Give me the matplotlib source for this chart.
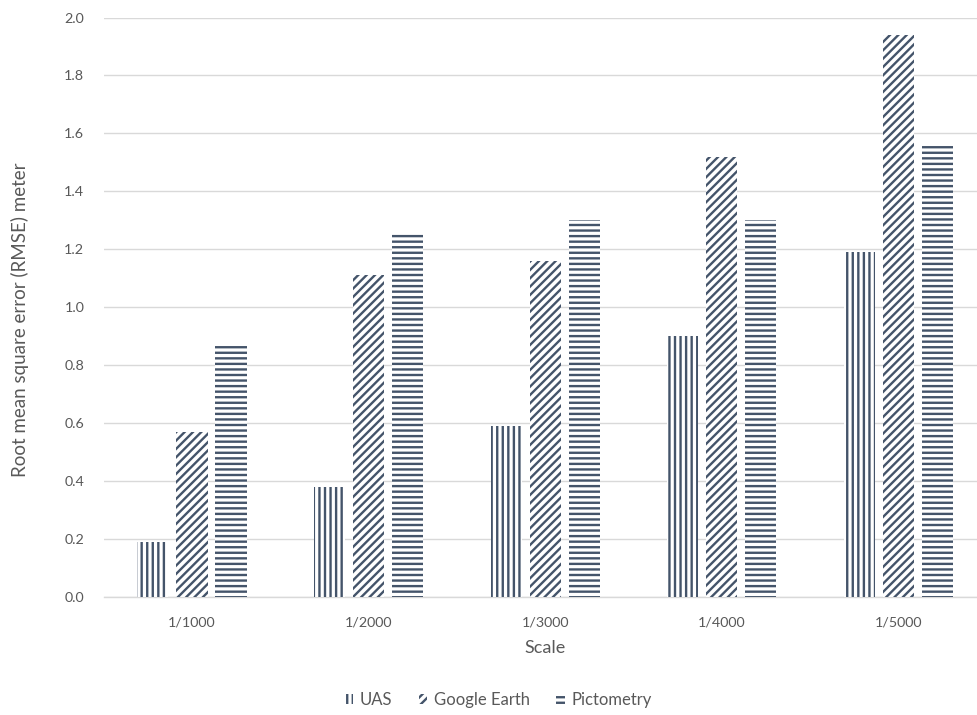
import matplotlib
matplotlib.use("Agg")
import matplotlib.pyplot as plt
import matplotlib.transforms as mtransforms
import numpy as np

# RMSE (meters) by map scale for each imagery source
scales = ["1/1000", "1/2000", "1/3000", "1/4000", "1/5000"]
uas = [0.19, 0.38, 0.59, 0.90, 1.19]
google_earth = [0.57, 1.11, 1.16, 1.52, 1.94]
pictometry = [0.87, 1.26, 1.30, 1.30, 1.56]

series_names = ["UAS", "Google Earth", "Pictometry"]
y_ticks = [0.0, 0.2, 0.4, 0.6, 0.8, 1.0, 1.2, 1.4, 1.6, 1.8, 2.0]

plt.rcParams["font.family"] = ["Lato", "DejaVu Sans"]
plt.rcParams["hatch.linewidth"] = 1.7

ink = "#44546A"
text_grey = "#595959"
grid_grey = "#D9D9D9"

fig = plt.figure(figsize=(9.78, 7.15), dpi=100)
ax = fig.add_axes([0.106, 0.165, 0.894, 0.8105])

x = np.arange(len(scales))
width = 0.176
step = 0.221
hatches = ["|||", "////", "---"]
values = [uas, google_earth, pictometry]

for i, (name, vals, h) in enumerate(zip(series_names, values, hatches)):
    ax.bar(x + (i - 1) * step, vals, width=width, facecolor="white",
           edgecolor=ink, linewidth=0, hatch=h, label=name, zorder=3)

ax.set_xlim(-0.5, 4.45)
ax.set_ylim(0, 2.0)
ax.set_xticks(x)
ax.set_xticklabels(scales)
ax.set_yticks(y_ticks)
ax.set_yticklabels([f"{v:.1f}" for v in y_ticks])

ax.tick_params(axis="both", length=0, colors=text_grey, labelsize=10.3)
ax.tick_params(axis="x", pad=14)
ax.tick_params(axis="y", pad=14)

ax.grid(axis="y", color=grid_grey, linewidth=1.0, zorder=0)
for side in ["top", "right", "left"]:
    ax.spines[side].set_visible(False)
ax.spines["bottom"].set_color(grid_grey)
ax.spines["bottom"].set_linewidth(1.0)

# Axis titles
trans = mtransforms.blended_transform_factory(ax.transData, fig.transFigure)
ax.text(2, 1 - 648 / 715, "Scale", transform=trans, ha="center", va="center",
        fontsize=13, color=text_grey)
fig.text(20 / 978, 1 - 320 / 715, "Root mean square error (RMSE) meter",
         rotation=90, ha="center", va="center", fontsize=13.5, color=text_grey)

leg = fig.legend(loc="center", bbox_to_anchor=(498 / 978, 1 - 700 / 715),
                 ncol=3, frameon=False, fontsize=12, handlelength=0.5,
                 handleheight=0.6, handletextpad=0.4, columnspacing=1.6,
                 labelcolor=text_grey)

fig.savefig("out.png", dpi=100)
